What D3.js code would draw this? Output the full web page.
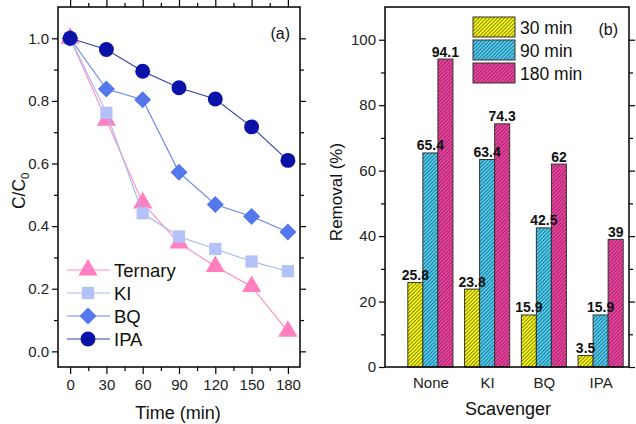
<!DOCTYPE html>
<html>
<head>
<meta charset="utf-8">
<script src="https://cdn.jsdelivr.net/npm/d3@7"></script>
<style>
  html, body { margin: 0; padding: 0; background: #fff; }
  svg { display: block; font-family: "Liberation Sans", Arial, sans-serif; }
</style>
</head>
<body>
<svg id="chart" width="636" height="424"></svg>
<script>
// ---------- Data ----------
const times = [0, 30, 60, 90, 120, 150, 180];
const ternary = [1.0, 0.738, 0.474, 0.346, 0.271, 0.207, 0.064];
const ki      = [1.0, 0.762, 0.441, 0.367, 0.327, 0.287, 0.256];
const bq      = [1.0, 0.838, 0.804, 0.572, 0.469, 0.431, 0.381];
const ipa     = [1.0, 0.964, 0.895, 0.842, 0.806, 0.717, 0.610];
const lineNames = ["Ternary", "KI", "BQ", "IPA"];
const xTicksA = [0, 30, 60, 90, 120, 150, 180];
const yTicksA = [0.0, 0.2, 0.4, 0.6, 0.8, 1.0];

const categories = ["None", "KI", "BQ", "IPA"];
const removal30  = [25.8, 23.8, 15.9, 3.5];
const removal90  = [65.4, 63.4, 42.5, 15.9];
const removal180 = [94.1, 74.3, 62, 39];
const barNames = ["30 min", "90 min", "180 min"];
const yTicksB = [0, 20, 40, 60, 80, 100];

// ---------- Setup ----------
const svg = d3.select("#chart");
const defs = svg.append("defs");

const lineStyles = [
  { data: ternary, color: "#ff7fbf", line: "#ff8cc4", shape: d3.symbolTriangle, size: 160, rot: 0 },
  { data: ki,      color: "#b4c2fa", line: "#a9b8f2", shape: d3.symbolSquare,   size: 150, rot: 0 },
  { data: bq,      color: "#5577ee", line: "#6a86ea", shape: d3.symbolSquare,   size: 145, rot: 45 },
  { data: ipa,     color: "#0b12a8", line: "#3240a6", shape: d3.symbolCircle,   size: 175, rot: 0 }
];

// ---------- Panel (a) ----------
const A = { l: 58, r: 300, t: 7, b: 367 };
const xA = d3.scaleLinear().domain([-10, 190]).range([A.l, A.r]);
const yA = d3.scaleLinear().domain([-0.05, 1.1]).range([A.b, A.t]);
const gA = svg.append("g");

function styleAxis(g) {
  g.select(".domain").remove();
  g.selectAll("line").attr("stroke", "#000").attr("stroke-width", 1.2);
  g.selectAll("text").attr("font-size", 15).attr("fill", "#222");
}

const minorX = d3.range(15, 181, 30);
const minorYA = d3.range(0.1, 1.01, 0.2);

// bottom
gA.append("g").attr("transform", `translate(0,${A.b})`)
  .call(d3.axisBottom(xA).tickValues(xTicksA).tickSize(7).tickPadding(5).tickFormat(d3.format("d")))
  .call(styleAxis);
gA.append("g").attr("transform", `translate(0,${A.b})`)
  .call(d3.axisBottom(xA).tickValues(minorX).tickSize(4).tickFormat(""))
  .call(styleAxis);
// top
gA.append("g").attr("transform", `translate(0,${A.t})`)
  .call(d3.axisTop(xA).tickValues(xTicksA).tickSize(7).tickFormat(""))
  .call(styleAxis);
gA.append("g").attr("transform", `translate(0,${A.t})`)
  .call(d3.axisTop(xA).tickValues(minorX).tickSize(4).tickFormat(""))
  .call(styleAxis);
// left
gA.append("g").attr("transform", `translate(${A.l},0)`)
  .call(d3.axisLeft(yA).tickValues(yTicksA).tickSize(6).tickPadding(3).tickFormat(d3.format(".1f")))
  .call(styleAxis);
gA.append("g").attr("transform", `translate(${A.l},0)`)
  .call(d3.axisLeft(yA).tickValues(minorYA).tickSize(4).tickFormat(""))
  .call(styleAxis);
// right
gA.append("g").attr("transform", `translate(${A.r},0)`)
  .call(d3.axisRight(yA).tickValues(yTicksA).tickSize(6).tickFormat(""))
  .call(styleAxis);
gA.append("g").attr("transform", `translate(${A.r},0)`)
  .call(d3.axisRight(yA).tickValues(minorYA).tickSize(4).tickFormat(""))
  .call(styleAxis);

const line = d3.line().x((d, i) => xA(times[i])).y(d => yA(d));
lineStyles.forEach(s => {
  gA.append("path").datum(s.data)
    .attr("d", line).attr("fill", "none")
    .attr("stroke", s.line).attr("stroke-width", 1.1);
  gA.selectAll(null).data(s.data).enter().append("path")
    .attr("d", d3.symbol().type(s.shape).size(s.size))
    .attr("transform", (d, i) => `translate(${xA(times[i])},${yA(d)}) rotate(${s.rot})`)
    .attr("fill", s.color);
});

gA.append("rect").attr("x", A.l).attr("y", A.t)
  .attr("width", A.r - A.l).attr("height", A.b - A.t)
  .attr("fill", "none").attr("stroke", "#000").attr("stroke-width", 1.5);

// legend (a)
const legA = gA.append("g");
lineStyles.forEach((s, i) => {
  const cy = 270 + i * 23;
  legA.append("line").attr("x1", 67).attr("x2", 110).attr("y1", cy).attr("y2", cy)
    .attr("stroke", s.line).attr("stroke-width", 1.1);
  legA.append("path").attr("d", d3.symbol().type(s.shape).size(s.size)())
    .attr("transform", `translate(88,${cy}) rotate(${s.rot})`).attr("fill", s.color);
  legA.append("text").attr("x", 114).attr("y", cy + 6.5)
    .attr("font-size", 18.5).attr("fill", "#111").text(lineNames[i]);
});

gA.append("text").attr("x", 290).attr("y", 39).attr("text-anchor", "end")
  .attr("font-size", 16).attr("fill", "#111").text("(a)");
gA.append("text").attr("x", 178).attr("y", 419).attr("text-anchor", "middle")
  .attr("font-size", 18).attr("fill", "#111").text("Time (min)");
const yl = gA.append("text").attr("transform", `translate(25,${(yA(0.6)+yA(0.4))/2 - 4}) rotate(-90)`)
  .attr("text-anchor", "middle").attr("font-size", 17.5).attr("fill", "#111");
yl.append("tspan").text("C/C");
yl.append("tspan").attr("font-size", 11.5).attr("dy", 4).text("0");

// ---------- Panel (b) ----------
const B = { l: 385, r: 629, t: 7, b: 367 };
const xB = d3.scaleLinear().domain([0.2, 4.5]).range([B.l, B.r]);
const yB = d3.scaleLinear().domain([0, 110]).range([B.b, B.t]);
const gB = svg.append("g");

const barStyles = [
  { data: removal30,  fill: "#fafa00", id: "hatchY" },
  { data: removal90,  fill: "#44d0f8", id: "hatchB" },
  { data: removal180, fill: "#fc3aa4", id: "hatchP" }
];
barStyles.forEach(s => {
  const p = defs.append("pattern").attr("id", s.id)
    .attr("patternUnits", "userSpaceOnUse").attr("width", 2.6).attr("height", 10)
    .attr("patternTransform", "rotate(45)");
  p.append("rect").attr("width", 2.6).attr("height", 10).attr("fill", s.fill);
  p.append("line").attr("x1", 0.4).attr("x2", 0.4).attr("y1", 0).attr("y2", 10)
    .attr("stroke", "#333").attr("stroke-width", 0.65);
});

const bw = 0.265;
const minorYB = d3.range(10, 101, 20);
gB.append("g").attr("transform", `translate(${B.l},0)`)
  .call(d3.axisLeft(yB).tickValues(yTicksB).tickSize(6).tickPadding(3))
  .call(styleAxis);
gB.append("g").attr("transform", `translate(${B.l},0)`)
  .call(d3.axisLeft(yB).tickValues(minorYB).tickSize(4).tickFormat(""))
  .call(styleAxis);
gB.append("g").attr("transform", `translate(${B.r},0)`)
  .call(d3.axisRight(yB).tickValues(yTicksB).tickSize(6).tickFormat(""))
  .call(styleAxis);
gB.append("g").attr("transform", `translate(${B.r},0)`)
  .call(d3.axisRight(yB).tickValues(minorYB).tickSize(4).tickFormat(""))
  .call(styleAxis);
gB.append("g").attr("transform", `translate(0,${B.b})`)
  .call(d3.axisBottom(xB).tickValues([1, 2, 3, 4]).tickSize(0).tickPadding(10)
    .tickFormat((d, i) => categories[i]))
  .call(styleAxis);

barStyles.forEach((s, k) => {
  const off = (k - 1) * bw;
  gB.selectAll(null).data(s.data).enter().append("rect")
    .attr("x", (d, i) => xB(i + 1 + off - bw / 2))
    .attr("width", xB(bw) - xB(0))
    .attr("y", d => yB(d))
    .attr("height", d => yB(0) - yB(d))
    .attr("fill", `url(#${s.id})`)
    .attr("stroke", "#333").attr("stroke-width", 1);
});
barStyles.forEach((s, k) => {
  const off = (k - 1) * bw;
  gB.selectAll(null).data(s.data).enter().append("text")
    .attr("x", (d, i) => xB(i + 1 + off))
    .attr("y", d => yB(d) - 2.5)
    .attr("text-anchor", "middle").attr("font-size", 14).attr("font-weight", "bold")
    .attr("fill", "#111")
    .text(d => String(d));
});

gB.append("rect").attr("x", B.l).attr("y", B.t)
  .attr("width", B.r - B.l).attr("height", B.b - B.t)
  .attr("fill", "none").attr("stroke", "#000").attr("stroke-width", 1.5);

// legend (b)
barStyles.forEach((s, i) => {
  const y0 = 17 + i * 23;
  gB.append("rect").attr("x", 473).attr("y", y0).attr("width", 42).attr("height", 20)
    .attr("fill", `url(#${s.id})`).attr("stroke", "#333").attr("stroke-width", 1);
  gB.append("text").attr("x", 520).attr("y", y0 + 17)
    .attr("font-size", 17.5).attr("fill", "#111").text(barNames[i]);
});
gB.append("text").attr("x", 618).attr("y", 35).attr("text-anchor", "end")
  .attr("font-size", 16).attr("fill", "#111").text("(b)");
gB.append("text").attr("x", 508).attr("y", 415).attr("text-anchor", "middle")
  .attr("font-size", 18).attr("fill", "#111").text("Scavenger");
gB.append("text").attr("transform", `translate(342,192) rotate(-90)`)
  .attr("text-anchor", "middle").attr("font-size", 17).attr("fill", "#111").text("Removal (%)");
</script>
</body>
</html>
